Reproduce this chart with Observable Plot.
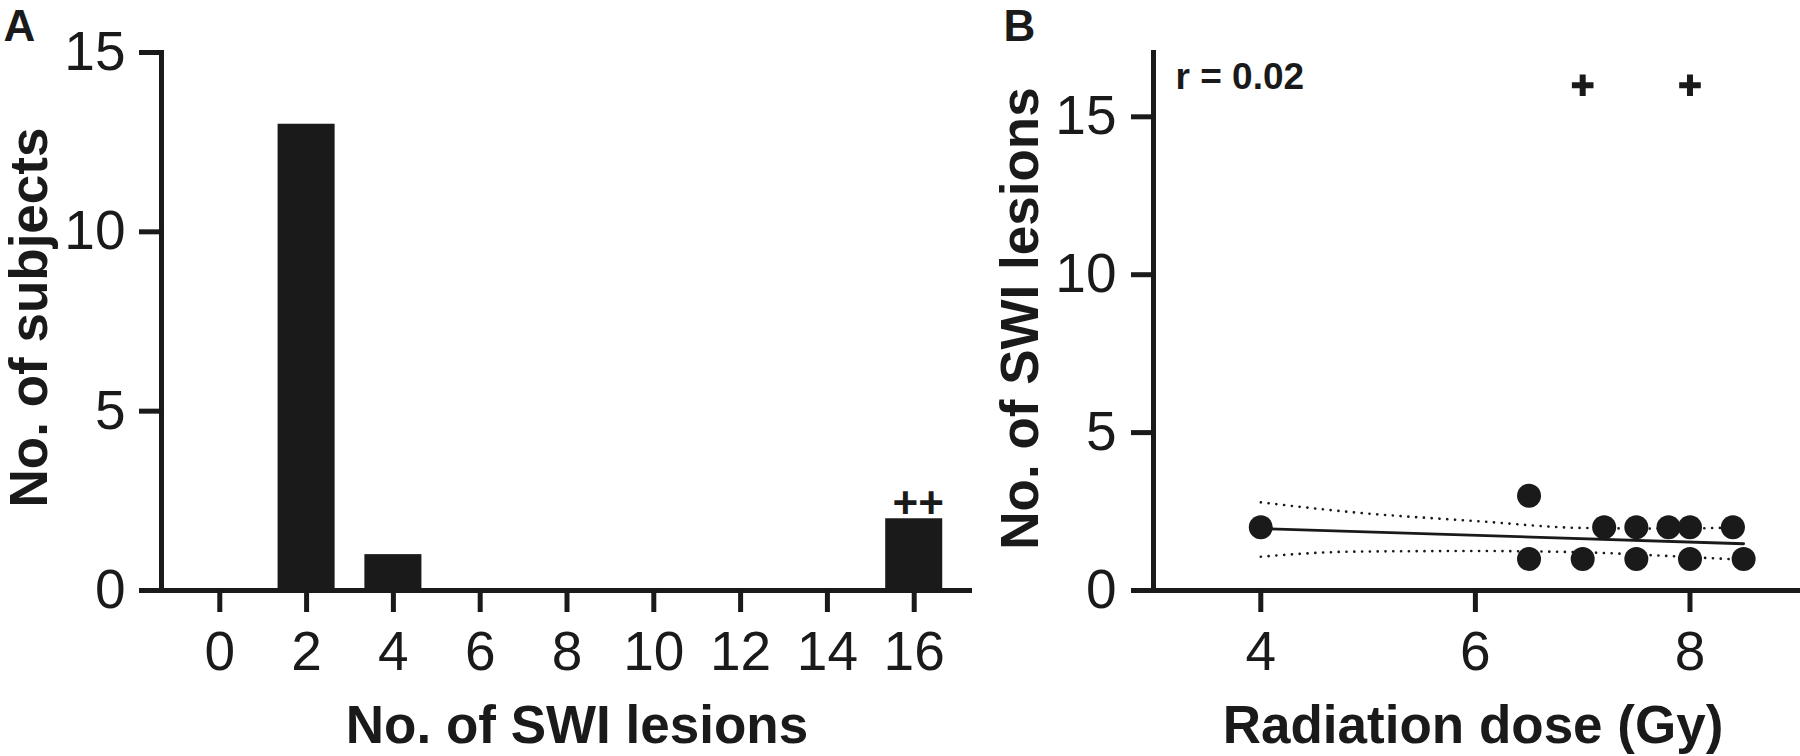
<!DOCTYPE html>
<html>
<head>
<meta charset="utf-8">
<script src="https://cdn.jsdelivr.net/npm/d3@7"></script>
<script src="https://cdn.jsdelivr.net/npm/@observablehq/plot@0.6"></script>
<style>
  html, body { margin: 0; padding: 0; background: #ffffff; }
  #wrap { position: relative; width: 1800px; height: 756px; overflow: hidden; background: #ffffff; }
  .panel { position: absolute; top: 0; }
  .panel svg { overflow: visible; }
</style>
</head>
<body>
<div id="wrap">
  <div id="panelA" class="panel" style="left:0px"></div>
  <div id="panelB" class="panel" style="left:1000px"></div>
</div>
<script>
// ---------- Panel A data ----------
const swiBins = [0, 2, 4, 6, 8, 10, 12, 14, 16];
const subjectCounts = [0, 13, 1, 0, 0, 0, 0, 0, 2];
const yTicksA = [0, 5, 10, 15];
const outlierMarkA = "++";

// ---------- Panel B data ----------
const doseGy =       [4.0, 6.5, 6.5, 7.0, 7.2, 7.5, 7.5, 7.8, 8.0, 8.0, 8.4, 8.5];
const lesionCounts = [2,   3,   1,   1,   2,   2,   1,   2,   2,   1,   2,   1];
const outlierDose = [7, 8];
const outlierLesions = [16, 16];
const fitDose = [4.0, 8.5];
const fitLesions = [1.96, 1.48];
const ciDose =  [4.0, 4.85, 6.0, 7.0, 7.75, 8.5];
const ciUpper = [2.79, 2.48, 2.20, 1.98, 1.96, 2.00];
const ciLower = [1.07, 1.23, 1.25, 1.21, 1.10, 0.97];
const xTicksB = [4, 6, 8];
const yTicksB = [0, 5, 10, 15];
const rLabel = "r = 0.02";

const ink = "#1a1a1a";
const font = "'Liberation Sans', Arial, Helvetica, sans-serif";

const barData = swiBins.map((b, i) => ({bin: b, count: subjectCounts[i]}));
const points = doseGy.map((d, i) => ({dose: d, lesions: lesionCounts[i]}));
const outliers = outlierDose.map((d, i) => ({dose: d, lesions: outlierLesions[i]}));
const fit = fitDose.map((d, i) => ({dose: d, lesions: fitLesions[i]}));
const upper = ciDose.map((d, i) => ({dose: d, lesions: ciUpper[i]}));
const lower = ciDose.map((d, i) => ({dose: d, lesions: ciLower[i]}));

const styleObj = {fontFamily: font, color: ink, background: "transparent", overflow: "visible"};

const plotA = Plot.plot({
  width: 1000, height: 756,
  marginLeft: 161, marginRight: 28, marginTop: 52, marginBottom: 166,
  x: {type: "band", domain: swiBins, padding: 0.343, round: false},
  y: {domain: [0, 15]},
  style: styleObj,
  marks: [
    Plot.barY(barData, {x: "bin", y: "count", fill: ink}),
    Plot.frame({anchor: "left", stroke: ink, strokeWidth: 5}),
    Plot.ruleY([0], {insetLeft: -22, stroke: ink, strokeWidth: 5}),
    Plot.axisX({tickSize: 22, tickPadding: 18, fontSize: 55, stroke: ink, strokeWidth: 5, label: null}),
    Plot.axisY(yTicksA, {tickSize: 22, tickPadding: 14, fontSize: 55, stroke: ink, strokeWidth: 5, label: null}),
    Plot.text(barData.filter(d => d.bin === 16), {x: "bin", y: "count", text: () => outlierMarkA, dx: 4, dy: -15,
      fontSize: 44, fontWeight: "bold", fill: ink, lineAnchor: "middle"}),
    Plot.text(["No. of SWI lesions"], {text: d => d, frameAnchor: "bottom", dx: 10, dy: 136,
      fontSize: 53, fontWeight: "bold", fill: ink, lineAnchor: "middle", textAnchor: "middle"}),
    Plot.text(["No. of subjects"], {text: d => d, frameAnchor: "left", rotate: -90, dx: -131, dy: -4,
      fontSize: 53, fontWeight: "bold", fill: ink, lineAnchor: "middle", textAnchor: "middle"}),
    Plot.text(["A"], {text: d => d, frameAnchor: "top-left", dx: -158, dy: -12,
      fontSize: 44, fontWeight: "bold", fill: ink, lineAnchor: "bottom", textAnchor: "start"})
  ]
});
document.getElementById("panelA").appendChild(plotA);

const plotB = Plot.plot({
  width: 800, height: 756,
  marginLeft: 153, marginRight: 0, marginTop: 50, marginBottom: 166,
  x: {domain: [3, 9.03]},
  y: {domain: [0, 17.1]},
  style: styleObj,
  marks: [
    Plot.ruleX([3], {stroke: ink, strokeWidth: 5}),
    Plot.ruleY([0], {insetLeft: -22, stroke: ink, strokeWidth: 5}),
    Plot.axisX(xTicksB, {tickSize: 22, tickPadding: 18, fontSize: 55, stroke: ink, strokeWidth: 5, label: null}),
    Plot.axisY(yTicksB, {tickSize: 22, tickPadding: 15, fontSize: 55, stroke: ink, strokeWidth: 5, label: null}),
    Plot.line(upper, {x: "dose", y: "lesions", curve: "monotone-x", stroke: ink, strokeWidth: 2.6,
      strokeDasharray: "0.1 7.7", strokeLinecap: "round"}),
    Plot.line(lower, {x: "dose", y: "lesions", curve: "monotone-x", stroke: ink, strokeWidth: 2.6,
      strokeDasharray: "0.1 7.7", strokeLinecap: "round"}),
    Plot.line(fit, {x: "dose", y: "lesions", stroke: ink, strokeWidth: 2.8}),
    Plot.dot(points, {x: "dose", y: "lesions", r: 12, fill: ink, stroke: null}),
    Plot.dot(outliers, {x: "dose", y: "lesions", symbol: "plus", r: 7, stroke: ink, strokeWidth: 6}),
    Plot.text([rLabel], {text: d => d, frameAnchor: "top-left", dx: 22, dy: 12,
      fontSize: 37, fontWeight: "bold", fill: ink, lineAnchor: "top", textAnchor: "start"}),
    Plot.text(["Radiation dose (Gy)"], {text: d => d, frameAnchor: "bottom", dx: -4, dy: 136,
      fontSize: 53, fontWeight: "bold", fill: ink, lineAnchor: "middle", textAnchor: "middle"}),
    Plot.text(["No. of SWI lesions"], {text: d => d, frameAnchor: "left", rotate: -90, dx: -132, dy: -2,
      fontSize: 53, fontWeight: "bold", fill: ink, lineAnchor: "middle", textAnchor: "middle"}),
    Plot.text(["B"], {text: d => d, frameAnchor: "top-left", dx: -150, dy: -10,
      fontSize: 44, fontWeight: "bold", fill: ink, lineAnchor: "bottom", textAnchor: "start"})
  ]
});
document.getElementById("panelB").appendChild(plotB);
</script>
</body>
</html>
